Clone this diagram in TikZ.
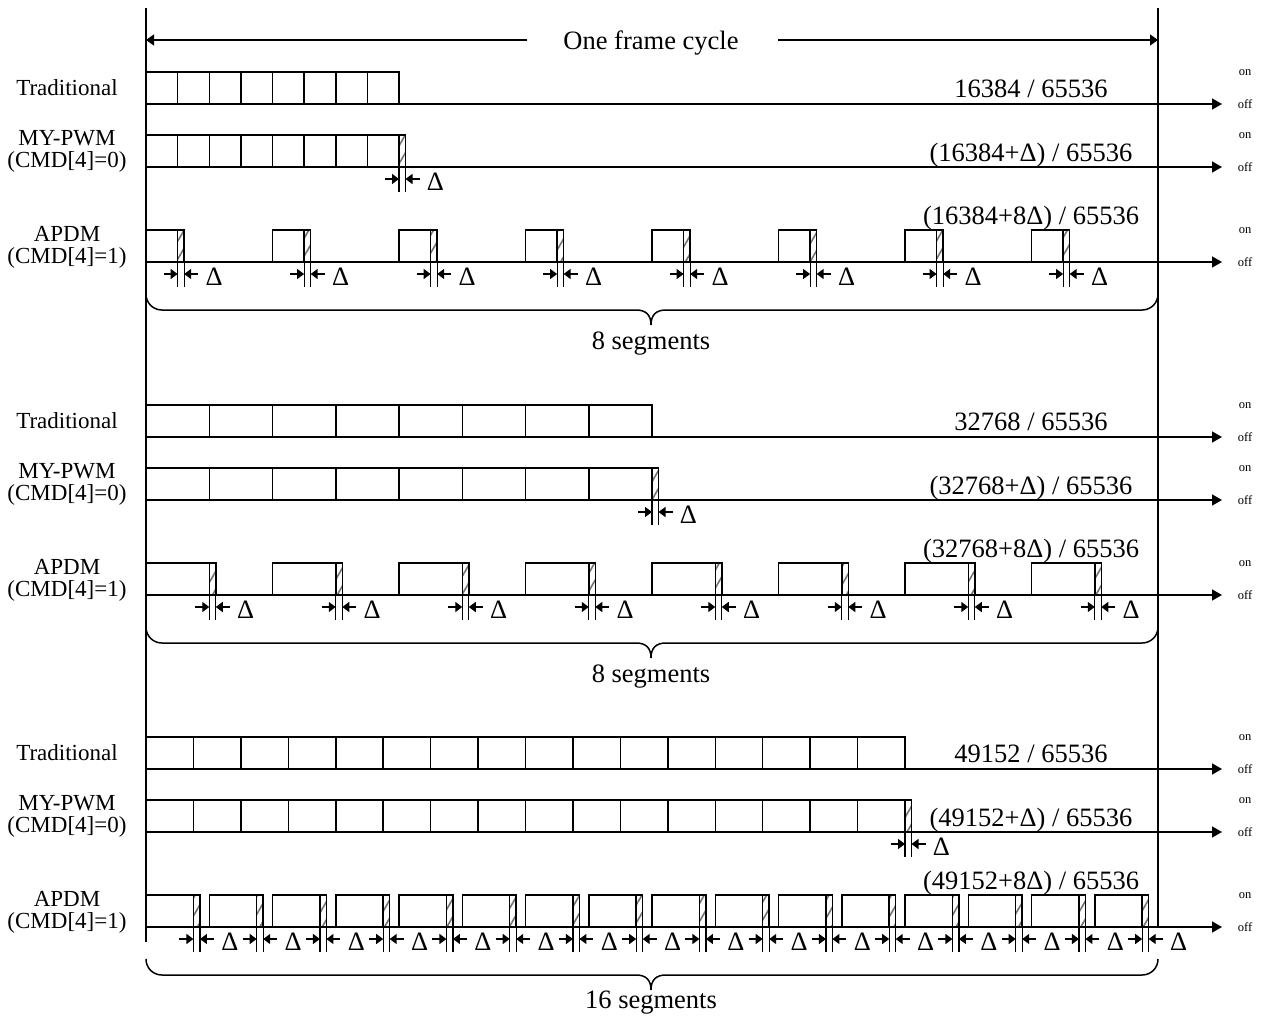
\documentclass[tikz,border=0pt]{standalone}
\usepackage{fontspec}
\setmainfont{Liberation Serif}
\usetikzlibrary{arrows.meta,patterns.meta}

\newcommand{\bigtxt}{\fontsize{26.5}{30}\selectfont}
\newcommand{\lbltxt}{\fontsize{23}{26}\selectfont}
\newcommand{\smalltxt}{\fontsize{12.5}{14}\selectfont}

\tikzset{
  cell/.style={draw, line width=1.5pt},
  hatched/.style={draw, line width=1.5pt, pattern={Lines[angle=60,distance=9pt,line width=1.6pt]}, pattern color=black!55},
  timeaxis/.style={line width=1.5pt, -{Triangle[length=10pt,width=11pt]}},
  cyclearrow/.style={line width=1.5pt, -{Triangle[length=8pt,width=11pt]}},
  dimline/.style={line width=1.2pt},
  dimarrow/.style={line width=1.4pt, -{Triangle[length=7pt,width=10pt]}},
  brace/.style={line width=1.5pt},
}

% pulse plus hatched delta strip: left x, cell width, top y
\newcommand{\pulse}[3]{%
  \draw[cell] (#1,#3) rectangle ++(#2,32);
  \draw[hatched] (#1+#2,#3) rectangle ++(6.5,32);
}
% delta dimension below a strip: strip left x, axis y, name
\newcommand{\deltadim}[3]{%
  \draw[dimline] (#1,#2) -- ++(0,25);
  \draw[dimline] (#1+6.5,#2) -- ++(0,25);
  \coordinate (#3l) at (#1-14,#2+12);
  \coordinate (#3r) at (#1+20.5,#2+12);
  \draw[dimarrow] (#3l) -- (#1,#2+12);
  \draw[dimarrow] (#3r) -- (#1+6.5,#2+12);
  \node[anchor=base, inner sep=0pt] (#3t) at (#1+36.5,#2+23) {\bigtxt Δ};
}

\begin{document}
\begin{tikzpicture}[x=1pt, y=-1pt]
  \useasboundingbox (0,0) rectangle (1261,1017);

  % frame and cycle arrow
  \coordinate (ftl) at (146,8);
  \coordinate (fbl) at (146,942);
  \coordinate (ftr) at (1158,8);
  \coordinate (fbr) at (1158,927);
  \draw[brace] (ftl) -- (fbl);
  \draw[brace] (ftr) -- (fbr);
  \node[anchor=base] (cycle) at (651,49) {\bigtxt One frame cycle};
  \coordinate (cl) at (146,40);
  \coordinate (cr) at (1158,40);
  \coordinate (gl) at (527,40);
  \coordinate (gr) at (778,40);
  \draw[cyclearrow] (gl) -- (cl);
  \draw[cyclearrow] (gr) -- (cr);

  \foreach \g/\off/\tw/\tn/\sw/\sn/\val/\segs/\sy in
      {1/0/31.625/7/126.5/7/16384/8/349,
       2/333/63.25/7/126.5/7/32768/8/682,
       3/665/47.4375/15/63.25/15/49152/16/1008} {
    % labels
    \node[anchor=base] (trad\g) at (67,95+\off) {\lbltxt Traditional};
    \node[anchor=base] (mypwm\g) at (67,145+\off) {\lbltxt MY-PWM};
    \node[anchor=base] (cmda\g) at (67,167+\off) {\lbltxt (CMD[4]=0)};
    \node[anchor=base] (apdm\g) at (67,241+\off) {\lbltxt APDM};
    \node[anchor=base] (cmdb\g) at (67,263+\off) {\lbltxt (CMD[4]=1)};

    % traditional
    \foreach \i in {0,...,\tn}
      \draw[cell] (146+\i*\tw,72+\off) rectangle ++(\tw,32);
    % my-pwm
    \foreach \i in {0,...,\tn}
      \draw[cell] (146+\i*\tw,135+\off) rectangle ++(\tw,32);
    \draw[hatched] (146+\tn*\tw+\tw,135+\off) rectangle ++(6.5,32);
    \deltadim{146+\tn*\tw+\tw}{167+\off}{m\g}
    % apdm
    \foreach \k in {0,...,\sn} {
      \pulse{146+\k*\sw}{\tw}{230+\off}
      \deltadim{146+\k*\sw+\tw}{262+\off}{d\g-\k}
    }

    % axes
    \foreach \r/\t/\a in {a/72/104, b/135/167, c/230/262} {
      \coordinate (s\g\r) at (146,\a+\off);
      \coordinate (e\g\r) at (1222,\a+\off);
      \draw[timeaxis] (s\g\r) -- (e\g\r);
      \node (on\g\r) at (1245,\t+1+\off) {\smalltxt on};
      \node (off\g\r) at (1245,\a+\off) {\smalltxt off};
    }

    % values
    \node[anchor=base] (va\g) at (1031,97+\off) {\bigtxt \val{} / 65536};
    \node[anchor=base] (vb\g) at (1031,161+\off) {\bigtxt (\val+Δ) / 65536};
    \node[anchor=base] (vc\g) at (1031,224+\off) {\bigtxt (\val+8Δ) / 65536};

    % brace
    \draw[brace] (146,294+\off) .. controls (146,303+\off) and (153,310+\off) .. (162,310+\off)
      -- (636,310+\off) .. controls (646,310+\off) and (651,315+\off) .. (651,325+\off)
      .. controls (651,315+\off) and (656,310+\off) .. (666,310+\off)
      -- (1142,310+\off) .. controls (1151,310+\off) and (1158,303+\off) .. (1158,294+\off);
    \node[anchor=base] (segs\g) at (651,\sy) {\bigtxt \segs{} segments};
  }
\end{tikzpicture}
\end{document}
